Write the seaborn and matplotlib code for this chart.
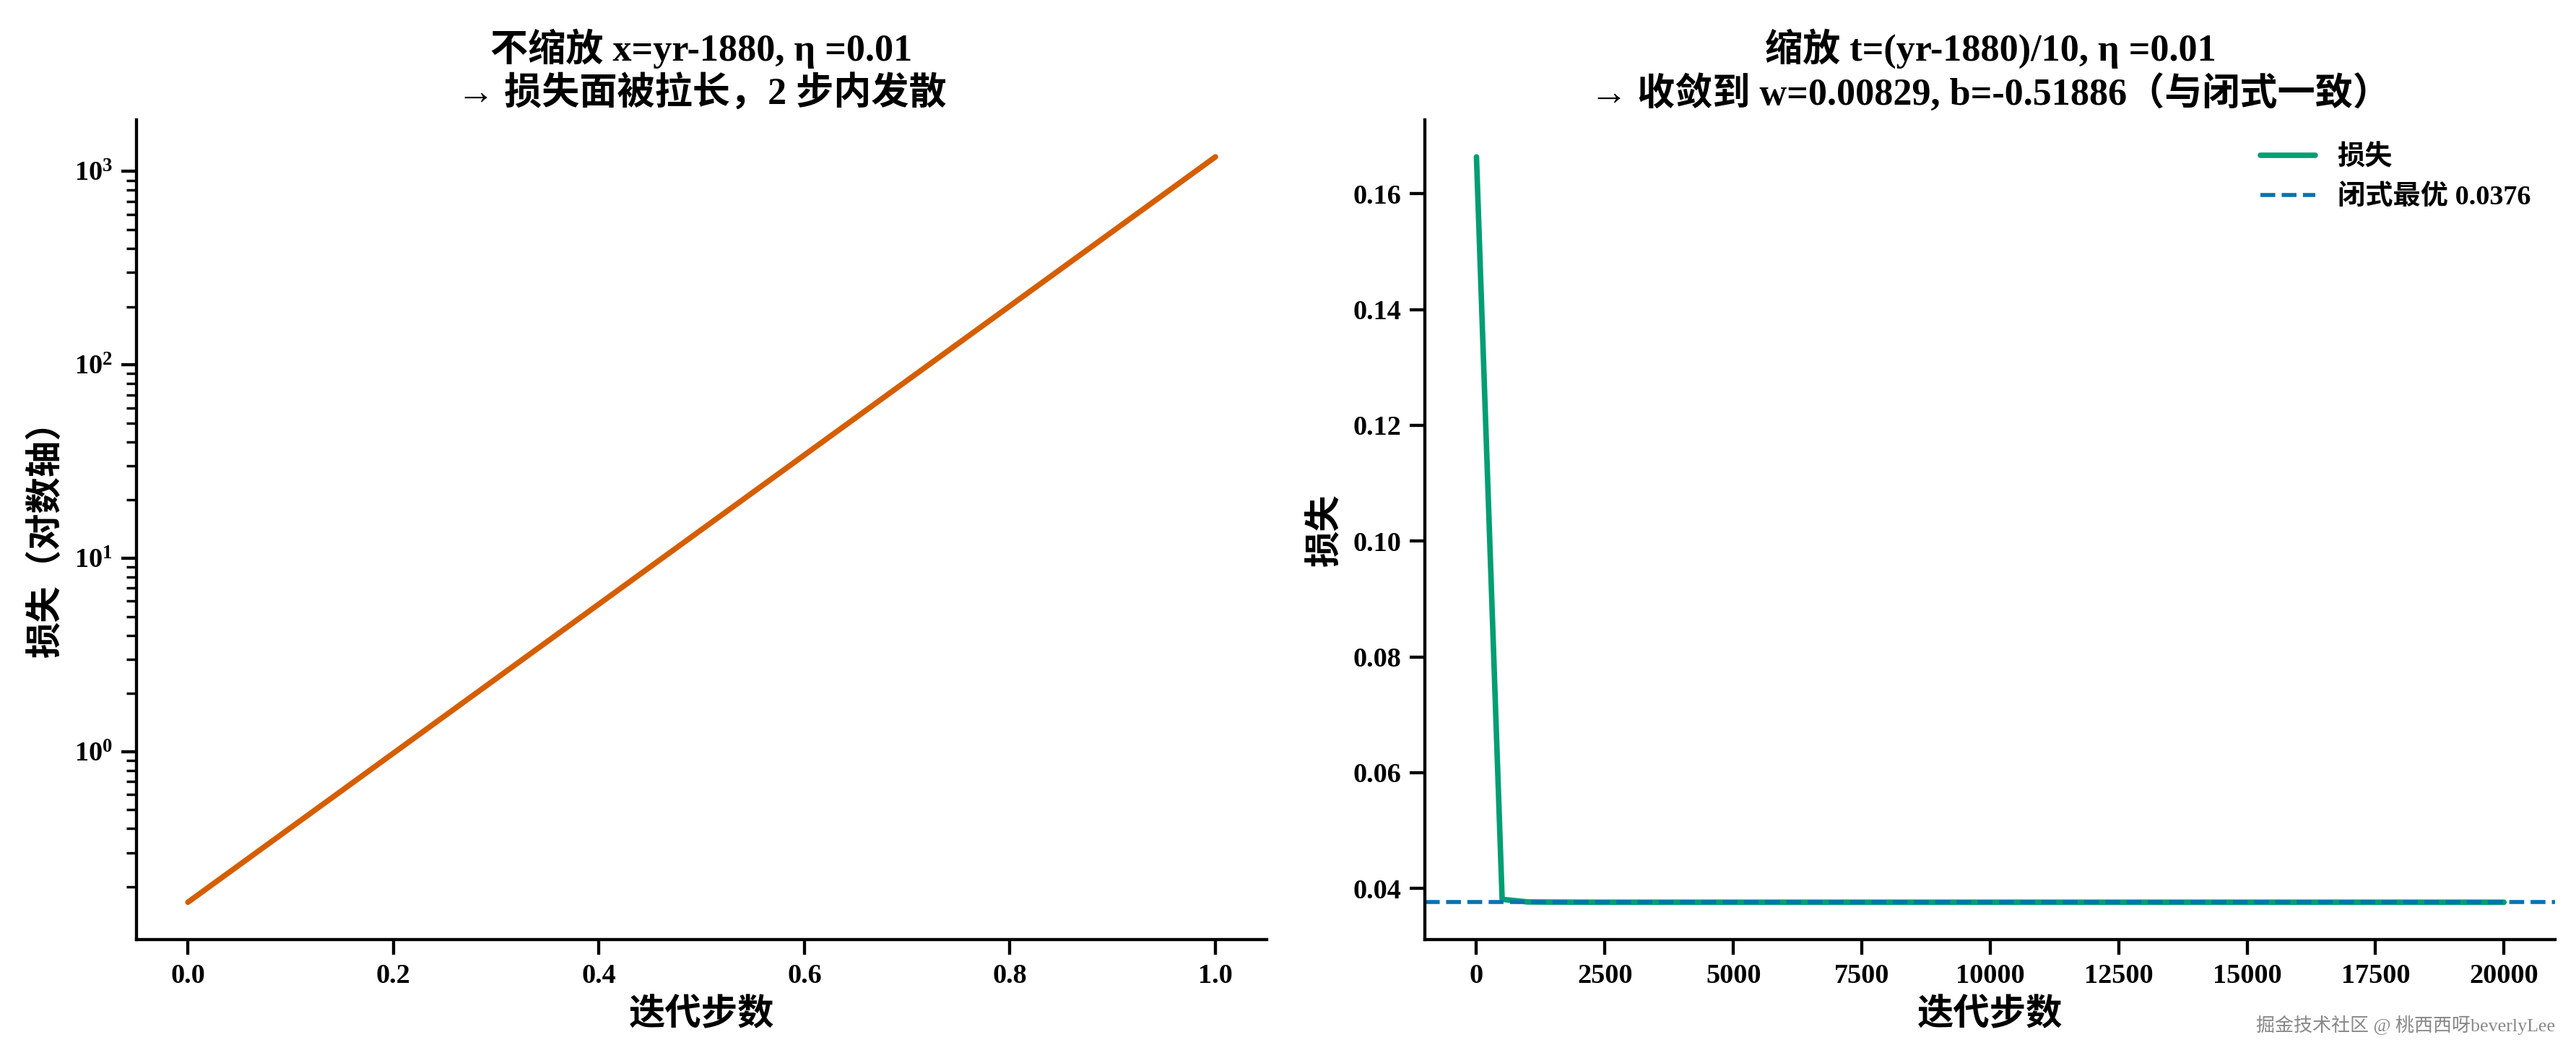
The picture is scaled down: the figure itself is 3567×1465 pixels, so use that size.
import numpy as np
import pandas as pd
import matplotlib
matplotlib.use('Agg')
import matplotlib.pyplot as plt
import seaborn as sns

# 不缩放：两步即发散
raw_steps = [0, 1]
raw_loss = [0.1664, 1190.0]

# 缩放后：每 500 步记录一次
scaled_steps = list(range(0, 20001, 500))
scaled_loss = [0.1664, 0.0381, 0.03765, 0.03762, 0.03761, 0.0376, 0.0376, 0.0376, 0.0376, 0.0376,
               0.0376, 0.0376, 0.0376, 0.0376, 0.0376, 0.0376, 0.0376, 0.0376, 0.0376, 0.0376,
               0.0376, 0.0376, 0.0376, 0.0376, 0.0376, 0.0376, 0.0376, 0.0376, 0.0376, 0.0376,
               0.0376, 0.0376, 0.0376, 0.0376, 0.0376, 0.0376, 0.0376, 0.0376, 0.0376, 0.0376,
               0.0376]
closed_form_loss = 0.0376

sns.set_theme(style='ticks', palette='colorblind',
              rc={'text.color': 'black', 'axes.labelcolor': 'black', 'axes.edgecolor': 'black',
                  'xtick.color': 'black', 'ytick.color': 'black'})
plt.rcParams['font.family'] = ['Liberation Serif', 'Noto Sans CJK SC', 'DejaVu Sans']
plt.rcParams['axes.unicode_minus'] = False
pal = sns.color_palette('colorblind')

fig, (ax1, ax2) = plt.subplots(1, 2, figsize=(14.268, 5.86), dpi=250)
fig.subplots_adjust(left=0.053, right=0.992, bottom=0.112, top=0.887, wspace=0.14)

raw_df = pd.DataFrame({'step': raw_steps, 'loss': raw_loss})
sns.lineplot(data=raw_df, x='step', y='loss', ax=ax1, color=pal[3], linewidth=2.2)
ax1.set_yscale('log')
ax1.set_title('不缩放 x=yr-1880, η =0.01\n→ 损失面被拉长，2 步内发散', fontsize=15, fontweight='bold')
ax1.set_xlabel('迭代步数', fontsize=14.5, fontweight='bold')
ax1.set_ylabel('损失（对数轴）', fontsize=14.5, fontweight='bold')

scaled_df = pd.DataFrame({'step': scaled_steps, 'loss': scaled_loss})
sns.lineplot(data=scaled_df, x='step', y='loss', ax=ax2, color=pal[2], linewidth=2.2, label='损失')
ax2.axhline(closed_form_loss, color=pal[0], linestyle='--', linewidth=1.6,
            label=f'闭式最优 {closed_form_loss:.4f}')
ax2.set_xticks(np.arange(0, 20001, 2500))
ax2.set_yticks(np.arange(0.04, 0.161, 0.02))
ax2.set_title('缩放 t=(yr-1880)/10, η =0.01\n→ 收敛到 w=0.00829, b=-0.51886（与闭式一致）',
              fontsize=15, fontweight='bold')
ax2.set_xlabel('迭代步数', fontsize=14.5, fontweight='bold')
ax2.set_ylabel('损失', fontsize=14.5, fontweight='bold')
leg = ax2.legend(frameon=False, loc='upper right', fontsize=11)
for t in leg.get_texts():
    t.set_fontweight('bold')

for ax in (ax1, ax2):
    ax.tick_params(labelsize=11)
    for lab in ax.get_xticklabels() + ax.get_yticklabels():
        lab.set_fontweight('bold')
sns.despine(fig)

fig.text(0.992, 0.022, '掘金技术社区 @ 桃西西呀beverlyLee', ha='right', va='bottom',
         fontsize=7.5, color='#888888')

fig.savefig('out.png', dpi=250)
